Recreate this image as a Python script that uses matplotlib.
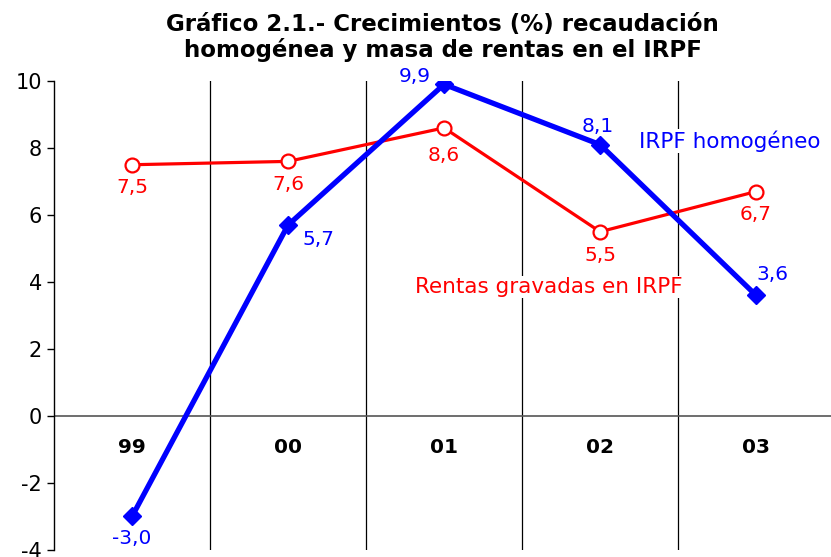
import matplotlib
matplotlib.use("Agg")
import matplotlib.pyplot as plt

plt.rcParams["axes.unicode_minus"] = False

years = ["99", "00", "01", "02", "03"]
rentas = [7.5, 7.6, 8.6, 5.5, 6.7]
irpf = [-3.0, 5.7, 9.9, 8.1, 3.6]

# label offsets in pixels (dx, dy) for each point
rentas_offsets = [(0, -23), (0, -23), (0, -28), (0, -24), (0, -23)]
irpf_offsets = [(0, -22), (30, -14), (-29, 8), (-2, 18), (16, 21)]

red = "#ff0000"
blue = "#0000ff"

fig = plt.figure(figsize=(8.31, 5.57), dpi=100)
ax = fig.add_axes([0.065, 0.0126, 0.935, 0.842])

x = list(range(len(years)))

# vertical separators between categories
for xv in [0.5, 1.5, 2.5, 3.5]:
    ax.axvline(xv, color="black", lw=0.9, zorder=1)
ax.axhline(0, color="#555555", lw=1.2, zorder=1)

ax.plot(x, rentas, color=red, lw=2.3, marker="o", markersize=10,
        markerfacecolor="white", markeredgecolor=red, markeredgewidth=1.6, zorder=3)
ax.plot(x, irpf, color=blue, lw=3.8, marker="D", markersize=9,
        markerfacecolor=blue, markeredgecolor=blue, zorder=4)

for xi, v, off in zip(x, rentas, rentas_offsets):
    ax.annotate(f"{v:.1f}".replace(".", ","), (xi, v), xytext=off,
                textcoords="offset pixels", ha="center", va="center",
                color=red, fontsize=14.5, zorder=5)
for xi, v, off in zip(x, irpf, irpf_offsets):
    ax.annotate(f"{v:.1f}".replace(".", ","), (xi, v), xytext=off,
                textcoords="offset pixels", ha="center", va="center",
                color=blue, fontsize=14.5, zorder=5)

# series labels
ax.text(3.83, 8.2, "IRPF homogéneo", color=blue, fontsize=15.5, ha="center", va="center",
        bbox=dict(facecolor="white", edgecolor="none", pad=1), zorder=2)
ax.text(2.67, 3.85, "Rentas gravadas en IRPF", color=red, fontsize=15.5, ha="center", va="center",
        bbox=dict(facecolor="white", edgecolor="none", pad=1), zorder=2)

# category labels under the zero line
for xi, yr in zip(x, years):
    ax.text(xi, -0.95, yr, ha="center", va="center", fontsize=14.5, fontweight="bold")

ax.set_xlim(-0.5, 4.48)
ax.set_ylim(-4, 10)
ax.set_yticks(range(-4, 11, 2))
ax.set_xticks([])
ax.tick_params(axis="y", labelsize=15, length=5, width=1, direction="out")
for s in ["top", "right", "bottom"]:
    ax.spines[s].set_visible(False)
ax.spines["left"].set_linewidth(1)

ax.set_title("Gráfico 2.1.- Crecimientos (%) recaudación\nhomogénea y masa de rentas en el IRPF",
             fontsize=16.5, fontweight="bold", pad=17, linespacing=1.15)

fig.savefig("out.png", dpi=100)
